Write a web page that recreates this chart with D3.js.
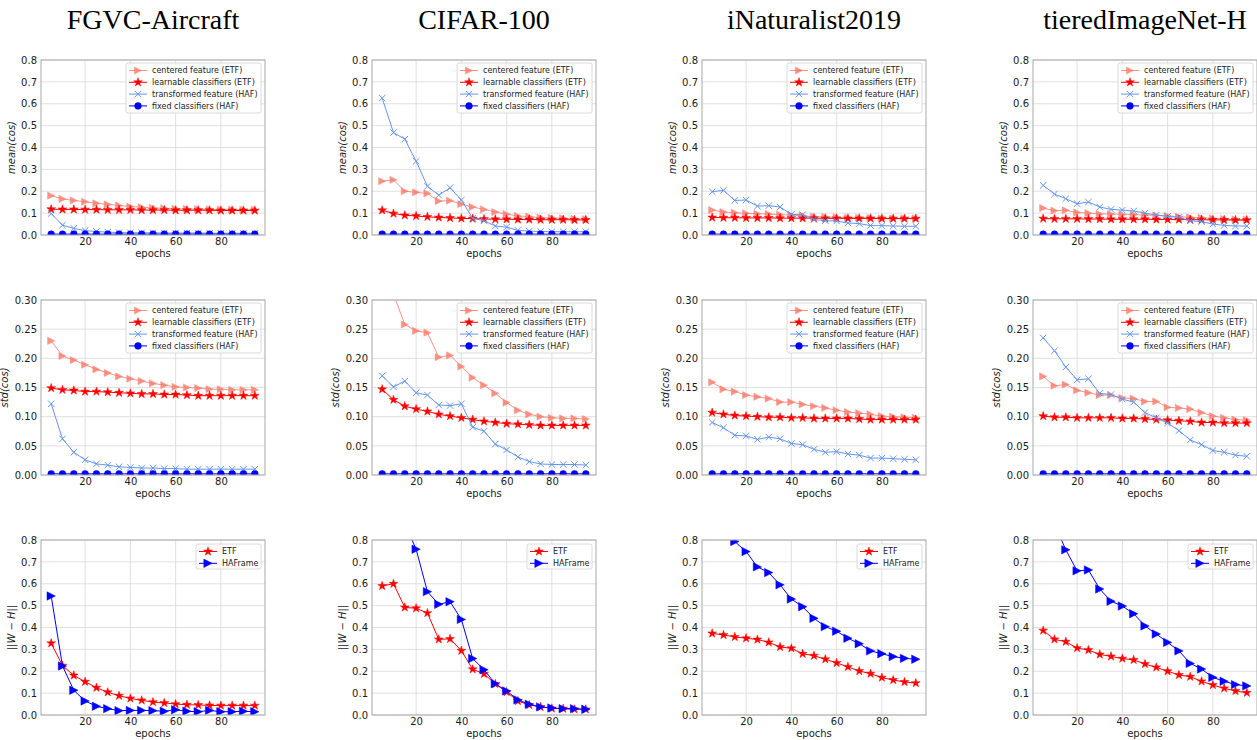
<!DOCTYPE html>
<html><head><meta charset="utf-8">
<script src="https://cdn.jsdelivr.net/npm/d3@7"></script>
<style>body{margin:0;background:#fff} svg{display:block}</style>
</head><body>
<svg id="chart" width="1257" height="740"></svg>
<script>
// ---------------- DATA ----------------
const epochs = [5,10,15,20,25,30,35,40,45,50,55,60,65,70,75,80,85,90,95];
const datasets = ["FGVC-Aircraft","CIFAR-100","iNaturalist2019","tieredImageNet-H"];
const xTicks = [20,40,60,80];
const meanTicks = [0,0.1,0.2,0.3,0.4,0.5,0.6,0.7,0.8];
const stdTicks = [0,0.05,0.10,0.15,0.20,0.25,0.30];
const normTicks = [0,0.1,0.2,0.3,0.4,0.5,0.6,0.7,0.8];
const cosLegend = ["centered feature (ETF)","learnable classifiers (ETF)","transformed feature (HAF)","fixed classifiers (HAF)"];
const normLegend = ["ETF","HAFrame"];

// mean(cos): one array per dataset [FGVC, CIFAR, iNat, tiered]
const meanCentered = [
  [0.180,0.165,0.158,0.152,0.145,0.140,0.135,0.130,0.127,0.124,0.122,0.120,0.119,0.118,0.117,0.116,0.116,0.115,0.115],
  [0.246,0.252,0.200,0.195,0.190,0.155,0.157,0.141,0.128,0.117,0.105,0.096,0.087,0.084,0.079,0.078,0.076,0.074,0.073],
  [0.114,0.105,0.102,0.099,0.097,0.096,0.093,0.091,0.088,0.084,0.082,0.081,0.079,0.078,0.078,0.076,0.076,0.076,0.076],
  [0.123,0.111,0.113,0.103,0.100,0.096,0.096,0.094,0.093,0.091,0.090,0.087,0.084,0.081,0.079,0.076,0.073,0.071,0.070]
];
const meanLearnable = [
  [0.118,0.117,0.117,0.116,0.116,0.115,0.115,0.115,0.114,0.114,0.114,0.113,0.113,0.113,0.113,0.112,0.112,0.112,0.112],
  [0.113,0.098,0.090,0.087,0.083,0.080,0.078,0.076,0.075,0.073,0.072,0.072,0.071,0.071,0.070,0.070,0.070,0.069,0.069],
  [0.080,0.079,0.079,0.078,0.078,0.078,0.077,0.077,0.077,0.077,0.076,0.076,0.076,0.076,0.076,0.075,0.075,0.075,0.075],
  [0.075,0.074,0.074,0.074,0.073,0.073,0.072,0.072,0.072,0.072,0.071,0.071,0.071,0.070,0.070,0.069,0.069,0.068,0.068]
];
const meanTransformed = [
  [0.098,0.045,0.030,0.020,0.016,0.013,0.011,0.010,0.010,0.010,0.009,0.009,0.009,0.009,0.008,0.008,0.008,0.008,0.008],
  [0.626,0.468,0.438,0.337,0.223,0.182,0.216,0.160,0.076,0.065,0.041,0.036,0.021,0.018,0.016,0.015,0.015,0.015,0.015],
  [0.198,0.204,0.158,0.160,0.132,0.134,0.128,0.094,0.093,0.071,0.065,0.064,0.055,0.052,0.043,0.043,0.041,0.040,0.040],
  [0.227,0.187,0.166,0.143,0.151,0.128,0.117,0.114,0.110,0.100,0.091,0.085,0.081,0.065,0.061,0.050,0.044,0.041,0.041]
];
const meanFixed = [
  [0.004,0.004,0.004,0.004,0.004,0.004,0.004,0.004,0.004,0.004,0.004,0.004,0.004,0.004,0.004,0.004,0.004,0.004,0.004],
  [0.004,0.004,0.004,0.004,0.004,0.004,0.004,0.004,0.004,0.004,0.004,0.004,0.004,0.004,0.004,0.004,0.004,0.004,0.004],
  [0.004,0.004,0.004,0.004,0.004,0.004,0.004,0.004,0.004,0.004,0.004,0.004,0.004,0.004,0.004,0.004,0.004,0.004,0.004],
  [0.004,0.004,0.004,0.004,0.004,0.004,0.004,0.004,0.004,0.004,0.004,0.004,0.004,0.004,0.004,0.004,0.004,0.004,0.004]
];

// std(cos)
const stdCentered = [
  [0.230,0.204,0.197,0.189,0.181,0.175,0.169,0.165,0.161,0.157,0.154,0.151,0.150,0.149,0.147,0.147,0.146,0.146,0.146],
  [0.360,0.310,0.258,0.247,0.244,0.202,0.205,0.186,0.167,0.154,0.140,0.124,0.111,0.104,0.100,0.098,0.097,0.097,0.096],
  [0.159,0.147,0.143,0.137,0.134,0.131,0.125,0.125,0.121,0.118,0.115,0.111,0.108,0.106,0.104,0.101,0.100,0.099,0.098],
  [0.169,0.153,0.155,0.145,0.141,0.137,0.137,0.132,0.131,0.126,0.126,0.116,0.115,0.113,0.107,0.101,0.098,0.095,0.094]
];
const stdLearnable = [
  [0.149,0.146,0.145,0.143,0.143,0.142,0.141,0.140,0.139,0.139,0.138,0.138,0.137,0.136,0.136,0.136,0.136,0.136,0.136],
  [0.147,0.129,0.118,0.113,0.109,0.104,0.101,0.098,0.095,0.092,0.090,0.088,0.087,0.086,0.085,0.085,0.085,0.085,0.085],
  [0.107,0.104,0.102,0.101,0.100,0.099,0.099,0.098,0.098,0.097,0.097,0.097,0.097,0.096,0.095,0.095,0.095,0.095,0.095],
  [0.101,0.099,0.099,0.098,0.098,0.098,0.098,0.097,0.097,0.096,0.095,0.094,0.093,0.092,0.090,0.090,0.089,0.089,0.089]
];
const stdTransformed = [
  [0.122,0.062,0.039,0.026,0.019,0.017,0.014,0.013,0.012,0.012,0.011,0.011,0.010,0.010,0.010,0.010,0.010,0.010,0.010],
  [0.170,0.151,0.161,0.141,0.137,0.120,0.119,0.122,0.082,0.075,0.053,0.043,0.031,0.023,0.019,0.018,0.018,0.018,0.017],
  [0.090,0.081,0.068,0.067,0.061,0.065,0.062,0.054,0.052,0.044,0.039,0.040,0.036,0.034,0.029,0.029,0.028,0.027,0.026],
  [0.235,0.213,0.185,0.163,0.165,0.140,0.138,0.130,0.125,0.107,0.098,0.089,0.076,0.060,0.052,0.042,0.039,0.034,0.032]
];
const stdFixed = [
  [0.002,0.002,0.002,0.002,0.002,0.002,0.002,0.002,0.002,0.002,0.002,0.002,0.002,0.002,0.002,0.002,0.002,0.002,0.002],
  [0.002,0.002,0.002,0.002,0.002,0.002,0.002,0.002,0.002,0.002,0.002,0.002,0.002,0.002,0.002,0.002,0.002,0.002,0.002],
  [0.002,0.002,0.002,0.002,0.002,0.002,0.002,0.002,0.002,0.002,0.002,0.002,0.002,0.002,0.002,0.002,0.002,0.002,0.002],
  [0.002,0.002,0.002,0.002,0.002,0.002,0.002,0.002,0.002,0.002,0.002,0.002,0.002,0.002,0.002,0.002,0.002,0.002,0.002]
];

// ||W - H||
const normETF = [
  [0.328,0.226,0.181,0.152,0.125,0.104,0.088,0.076,0.067,0.059,0.055,0.050,0.047,0.046,0.044,0.043,0.043,0.043,0.043],
  [0.590,0.600,0.492,0.488,0.466,0.346,0.348,0.294,0.209,0.188,0.142,0.105,0.064,0.046,0.037,0.030,0.029,0.026,0.026],
  [0.373,0.366,0.357,0.351,0.345,0.332,0.311,0.305,0.280,0.271,0.255,0.238,0.220,0.201,0.189,0.171,0.160,0.151,0.146],
  [0.386,0.346,0.335,0.306,0.297,0.277,0.268,0.258,0.252,0.233,0.218,0.200,0.183,0.175,0.154,0.137,0.122,0.110,0.102]
];
const normHAF = [
  [0.544,0.224,0.113,0.064,0.040,0.029,0.020,0.021,0.021,0.020,0.017,0.024,0.017,0.015,0.021,0.015,0.015,0.017,0.015],
  [1.150,1.000,0.875,0.758,0.564,0.506,0.518,0.437,0.258,0.207,0.143,0.110,0.069,0.049,0.037,0.032,0.029,0.029,0.026],
  [0.980,0.880,0.793,0.747,0.677,0.651,0.595,0.530,0.495,0.442,0.404,0.383,0.351,0.326,0.293,0.280,0.267,0.259,0.255],
  [0.980,0.873,0.755,0.659,0.663,0.576,0.520,0.498,0.463,0.407,0.370,0.332,0.293,0.236,0.210,0.172,0.154,0.139,0.133]
];

// ---------------- LAYOUT / STYLE ----------------
const colLeft = [41, 372, 702, 1033];
const rowTop = [60, 300, 540];
const PW = 224, PH = 175;
const svg = d3.select("#chart");
const FONT = "'DejaVu Sans', sans-serif";

function triRight(r){ return `M${r},0L${-r},${r}L${-r},${-r}Z`; }
function xMark(r){ return `M${-r},${-r}L${r},${r}M${-r},${r}L${r},${-r}`; }
const starPath = d3.symbol().type(d3.symbolStar).size(24)();
const circPath = d3.symbol().type(d3.symbolCircle).size(36)();

const cosStyles = [
  {color:"#fa8072", path: triRight(3.6), fill:true, op:0.85},
  {color:"#ff0000", path: starPath, fill:true, op:1},
  {color:"#6495ed", path: xMark(3.2), fill:false, op:1},
  {color:"#0000ff", path: circPath, fill:true, op:1}
];
const normStyles = [
  {color:"#ff0000", path: starPath, fill:true, op:1},
  {color:"#0000ff", path: triRight(4.2), fill:true, op:1}
];

// titles
datasets.forEach((t,i)=>{
  svg.append("text").attr("x", colLeft[i]+PW/2).attr("y", 29)
    .attr("text-anchor","middle").attr("font-family","'Liberation Serif','Times New Roman',serif")
    .attr("font-size", 28).attr("fill","#000").text(t);
});

let clipId = 0;
function panel(col, row, yMax, yTicks, fmt, ylabel, labelOff, seriesList, styles, labels, legendCompact){
  const x0 = colLeft[col], y0 = rowTop[row];
  const x = d3.scaleLinear().domain([0.5, 99.5]).range([x0, x0+PW]);
  const y = d3.scaleLinear().domain([0, yMax]).range([y0+PH, y0]);
  const g = svg.append("g");
  const id = "clip"+(clipId++);
  g.append("clipPath").attr("id", id).append("rect")
    .attr("x", x0).attr("y", y0).attr("width", PW).attr("height", PH);

  // grid
  g.append("g").selectAll("line").data(xTicks).join("line")
    .attr("x1", d=>x(d)).attr("x2", d=>x(d)).attr("y1", y0).attr("y2", y0+PH)
    .attr("stroke","#dcdcdc").attr("stroke-width",0.9);
  g.append("g").selectAll("line").data(yTicks).join("line")
    .attr("x1", x0).attr("x2", x0+PW).attr("y1", d=>y(d)).attr("y2", d=>y(d))
    .attr("stroke","#dcdcdc").attr("stroke-width",0.9);

  // axes via d3
  const ax = d3.axisBottom(x).tickValues(xTicks).tickSize(0).tickPadding(3).tickFormat(d3.format("d"));
  const axg = g.append("g").attr("transform",`translate(0,${y0+PH})`).call(ax);
  const ay = d3.axisLeft(y).tickValues(yTicks).tickSize(0).tickPadding(4).tickFormat(d3.format(fmt));
  const ayg = g.append("g").attr("transform",`translate(${x0},0)`).call(ay);
  [axg, ayg].forEach(a=>{
    a.select(".domain").remove();
    a.selectAll("text").attr("font-family", FONT).attr("font-size", 10).attr("fill","#1a1a1a");
  });

  // series
  const pg = g.append("g").attr("clip-path", `url(#${id})`);
  seriesList.forEach((vals, si)=>{
    const st = styles[si];
    const pts = epochs.map((e,k)=>[e, vals[k]]);
    pg.append("path").datum(pts)
      .attr("d", d3.line().x(d=>x(d[0])).y(d=>y(d[1])))
      .attr("fill","none").attr("stroke", st.color).attr("stroke-width", 1).attr("opacity", st.op);
    pg.append("g").attr("opacity", st.op).selectAll("path").data(pts).join("path")
      .attr("transform", d=>`translate(${x(d[0])},${y(d[1])})`)
      .attr("d", st.path)
      .attr("fill", st.fill ? st.color : "none")
      .attr("stroke", st.color).attr("stroke-width", st.fill ? 0.5 : 1);
  });

  // spines
  g.append("rect").attr("x", x0).attr("y", y0).attr("width", PW).attr("height", PH)
    .attr("fill","none").attr("stroke","#a8a8a8").attr("stroke-width",1);

  // axis labels
  g.append("text").attr("x", x0+PW/2).attr("y", y0+PH+21.5).attr("text-anchor","middle")
    .attr("font-family", FONT).attr("font-size", 10).attr("fill","#1a1a1a").text("epochs");
  const yl = g.append("text").attr("transform", `translate(${x0-labelOff},${y0+PH/2}) rotate(-90)`)
    .attr("text-anchor","middle").attr("font-family", FONT).attr("font-size", 10).attr("fill","#1a1a1a");
  ylabel.forEach(p=>{
    yl.append("tspan").attr("font-style", p.it ? "italic" : "normal").text(p.t);
  });

  // legend
  const lw = legendCompact ? 65 : 135;
  const lh = legendCompact ? 25 : 50;
  const lx = x0+PW-4-lw, ly = y0 + (legendCompact ? 4 : 3);
  const lg = g.append("g");
  lg.append("rect").attr("x", lx).attr("y", ly).attr("width", lw).attr("height", lh)
    .attr("rx", 2).attr("fill","#fff").attr("fill-opacity",0.85).attr("stroke","#d0d0d0").attr("stroke-width",0.8);
  labels.forEach((lab, i)=>{
    const st = styles[i];
    const cy = ly + 7.5 + i*11.8;
    const hx0 = lx + 3, hx1 = lx + 21, hcx = (hx0+hx1)/2;
    lg.append("line").attr("x1",hx0).attr("x2",hx1).attr("y1",cy).attr("y2",cy)
      .attr("stroke", st.color).attr("stroke-width",1).attr("opacity", st.op);
    lg.append("path").attr("transform",`translate(${hcx},${cy})`).attr("d", st.path).attr("opacity", st.op)
      .attr("fill", st.fill ? st.color : "none").attr("stroke", st.color).attr("stroke-width", st.fill?0.5:1);
    lg.append("text").attr("x", lx+26).attr("y", cy).attr("dy","0.35em")
      .attr("font-family", FONT).attr("font-size", 8).attr("fill","#1a1a1a").text(lab);
  });
}

for(let c=0;c<4;c++){
  panel(c, 0, 0.8, meanTicks, ".1f", [{t:"mean(cos)", it:true}], 26,
    [meanCentered[c], meanLearnable[c], meanTransformed[c], meanFixed[c]], cosStyles, cosLegend, false);
  panel(c, 1, 0.30, stdTicks, ".2f", [{t:"std(cos)", it:true}], 33,
    [stdCentered[c], stdLearnable[c], stdTransformed[c], stdFixed[c]], cosStyles, cosLegend, false);
  panel(c, 2, 0.8, normTicks, ".1f", [{t:"||",it:false},{t:"W",it:true},{t:" − ",it:false},{t:"H",it:true},{t:"||",it:false}], 26,
    [normETF[c], normHAF[c]], normStyles, normLegend, true);
}
</script>
</body></html>
